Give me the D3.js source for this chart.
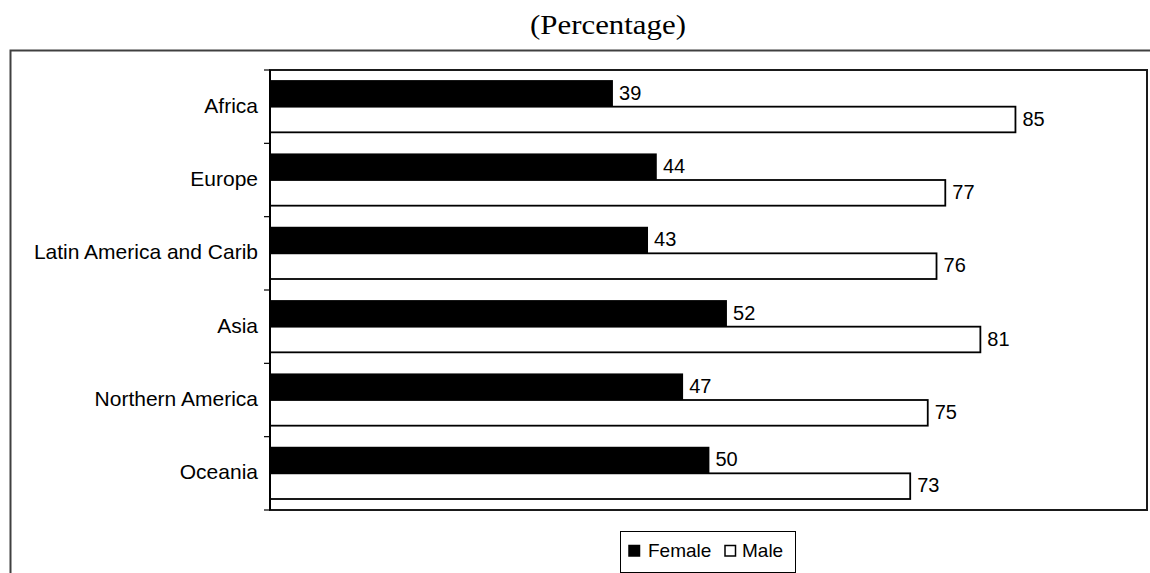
<!DOCTYPE html>
<html>
<head>
<meta charset="utf-8">
<script src="https://cdn.jsdelivr.net/npm/d3@7"></script>
<style>
  html, body { margin: 0; padding: 0; background: #fff; }
  svg { display: block; }
</style>
</head>
<body>
<svg id="chart" width="1150" height="573"></svg>
<script>
const categories = ["Africa", "Europe", "Latin America and Carib", "Asia", "Northern America", "Oceania"];
const seriesNames = ["Female", "Male"];
const femaleValues = [39, 44, 43, 52, 47, 50];
const maleValues = [85, 77, 76, 81, 75, 73];
const titleText = "(Percentage)";

const svg = d3.select("#chart");
const W = 1150, H = 573;

// outer frame (extends beyond the visible area to the right and bottom)
svg.append("path")
  .attr("d", `M10.5,${H + 5} L10.5,50.5 L${W + 5},50.5`)
  .attr("fill", "none").attr("stroke", "#404040").attr("stroke-width", 2);

// title
svg.append("text")
  .attr("x", 608).attr("y", 34)
  .attr("text-anchor", "middle")
  .attr("font-family", "'Liberation Serif','Times New Roman',serif")
  .attr("font-size", 28)
  .attr("textLength", 156).attr("lengthAdjust", "spacingAndGlyphs")
  .text(titleText);

const plot = { left: 270, right: 1147, top: 70, bottom: 510 };

const x = d3.scaleLinear().domain([0, 100]).range([plot.left, plot.right]);
const y = d3.scaleBand().domain(categories).range([plot.top, plot.bottom]).padding(0);
const step = y.bandwidth();
const inner = d3.scaleBand().domain(seriesNames).range([step * 0.15, step * 0.85]).padding(0);

const data = categories.map((c, i) => ({ cat: c, values: [
  { s: "Female", v: femaleValues[i] },
  { s: "Male", v: maleValues[i] }
]}));

// plot area box
svg.append("rect")
  .attr("x", plot.left).attr("y", plot.top)
  .attr("width", plot.right - plot.left).attr("height", plot.bottom - plot.top)
  .attr("fill", "#fff").attr("stroke", "#1a1a1a").attr("stroke-width", 2);

// bars
const groups = svg.append("g").selectAll("g").data(data).join("g")
  .attr("transform", d => `translate(0,${y(d.cat)})`);

groups.selectAll("rect").data(d => d.values).join("rect")
  .attr("x", x(0))
  .attr("y", d => inner(d.s))
  .attr("width", d => x(d.v) - x(0))
  .attr("height", inner.bandwidth())
  .attr("fill", d => d.s === "Female" ? "#000" : "#fff")
  .attr("stroke", "#000").attr("stroke-width", 1.8);

groups.selectAll("text").data(d => d.values).join("text")
  .attr("x", d => x(d.v) + 7)
  .attr("y", d => inner(d.s) + inner.bandwidth() / 2 + 6)
  .attr("font-family", "'Liberation Sans',Arial,sans-serif")
  .attr("font-size", 20)
  .attr("fill", "#000")
  .text(d => d.v);

// y axis: ticks at category boundaries, labels centred in bands
const axis = svg.append("g");
const boundaries = categories.map(c => y(c)).concat([plot.bottom]);
axis.selectAll("line.tick").data(boundaries).join("line")
  .attr("class", "tick")
  .attr("x1", plot.left - 6).attr("x2", plot.left)
  .attr("y1", d => d).attr("y2", d => d)
  .attr("stroke", "#000").attr("stroke-width", 1.2);
axis.append("line")
  .attr("x1", plot.left).attr("x2", plot.left)
  .attr("y1", plot.top).attr("y2", plot.bottom)
  .attr("stroke", "#000").attr("stroke-width", 2);
axis.selectAll("text").data(categories).join("text")
  .attr("x", plot.left - 12)
  .attr("y", d => y(d) + step / 2 + 6)
  .attr("text-anchor", "end")
  .attr("font-family", "'Liberation Sans',Arial,sans-serif")
  .attr("font-size", 21)
  .attr("fill", "#000")
  .text(d => d);

// legend
const lg = svg.append("g");
const lgX = 620, lgY = 531, lgW = 175, lgH = 41;
lg.append("rect").attr("x", lgX + 0.5).attr("y", lgY + 0.5).attr("width", lgW).attr("height", lgH)
  .attr("fill", "#fff").attr("stroke", "#000").attr("stroke-width", 1);
const legendItems = [
  { s: seriesNames[0], sx: 629, tx: 648, fill: "#000" },
  { s: seriesNames[1], sx: 725, tx: 742, fill: "#fff" }
];
lg.selectAll("rect.sw").data(legendItems).join("rect")
  .attr("class", "sw")
  .attr("x", d => d.sx).attr("y", 545.5).attr("width", 10.5).attr("height", 10.5)
  .attr("fill", d => d.fill).attr("stroke", "#000").attr("stroke-width", 1.5);
lg.selectAll("text").data(legendItems).join("text")
  .attr("x", d => d.tx).attr("y", 557)
  .attr("font-family", "'Liberation Sans',Arial,sans-serif")
  .attr("font-size", 19)
  .attr("fill", "#000")
  .text(d => d.s);
</script>
</body>
</html>
